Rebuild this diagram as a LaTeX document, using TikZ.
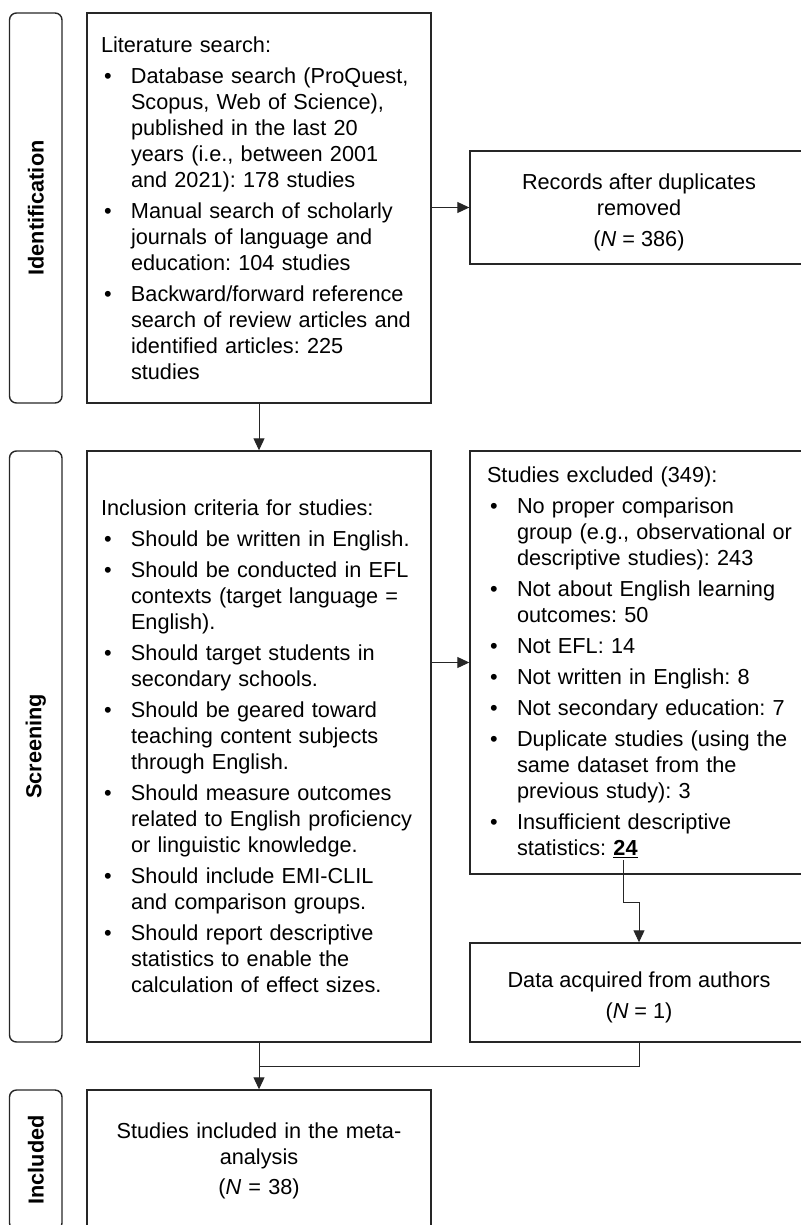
\documentclass[tikz,border=0pt]{standalone}
\usepackage{fontspec}
\setmainfont{Liberation Sans}
\usetikzlibrary{arrows.meta,calc}
\newcommand{\bitem}[1]{\par\vspace{5pt}\hangindent=30pt\hangafter=1\noindent\makebox[30pt][l]{\hspace{3pt}\textbullet}#1\par}
\newcommand{\topgap}{\rule{0pt}{25pt}}
\hyphenpenalty=10000
\exhyphenpenalty=10000
\frenchspacing

\begin{document}
\begin{tikzpicture}[x=1pt,y=-1pt]
	\tikzset{boxed/.style={draw=black!85, line width=1.4pt, rectangle, inner sep=0pt, font=\fontsize{21.7pt}{26pt}\selectfont},
		listed/.style={boxed, inner xsep=14pt, text width=316pt, align=left},
		centred/.style={boxed, minimum width=338pt, align=center},
		sidebar/.style={boxed, rounded corners=7pt, rotate=90, minimum height=52.5pt, font=\bfseries\fontsize{21.7pt}{26pt}\selectfont},
		arr/.style={draw=black!85, line width=1pt, -{Triangle[length=12pt,width=11pt]}},
		link/.style={draw=black!85, line width=1pt}}
	\useasboundingbox (0,0) rectangle (800,1225);
	
	\node[sidebar, minimum width=390pt] (idbar) at (35.75,208) {Identification};
	\node[sidebar, minimum width=591pt] (scbar) at (35.75,746.5) {Screening};
	\node[sidebar, minimum width=140pt] (inbar) at (35.75,1160) {Included};
	
	\node[listed, minimum height=390pt] (lit) at (259,208) {Literature search:
		\bitem{Database search (ProQuest,\newline Scopus, Web of Science),\newline published in the last 20\newline years (i.e., between 2001\newline and 2021): 178 studies}
		\bitem{Manual search of scholarly\newline journals of language and\newline education: 104 studies}
		\bitem{Backward/forward reference\newline search of review articles and\newline identified articles: 225\newline studies}};
	\node[centred, minimum height=113pt] (rec) at (639,207.5) {\topgap Records after duplicates\\removed\\[4.5pt](\textit{N} = 386)};
	
	\node[listed, minimum height=591pt] (incl) at (259,746.5) {Inclusion criteria for studies:
		\bitem{Should be written in English.}
		\bitem{Should be conducted in EFL\newline contexts (target language =\newline English).}
		\bitem{Should target students in\newline secondary schools.}
		\bitem{Should be geared toward\newline teaching content subjects\newline through English.}
		\bitem{Should measure outcomes\newline related to English proficiency\newline or linguistic knowledge.}
		\bitem{Should include EMI-CLIL\newline and comparison groups.}
		\bitem{Should report descriptive\newline statistics to enable the\newline calculation of effect sizes.}};
	\node[listed, inner xsep=17pt, text width=314pt, minimum height=423pt] (excl) at (644,662.5) {Studies excluded (349):
		\bitem{No proper comparison\newline group (e.g., observational or\newline descriptive studies): 243}
		\bitem{Not about English learning\newline outcomes: 50}
		\bitem{Not EFL: 14}
		\bitem{Not written in English: 8}
		\bitem{Not secondary education: 7}
		\bitem{Duplicate studies (using the\newline same dataset from the\newline previous study): 3}
		\bitem{Insufficient descriptive\newline statistics: \underline{\textbf{24}}}};
	\node[centred, minimum height=99pt] (data) at (639,992.5) {\topgap Data acquired from authors\\[4.5pt](\textit{N} = 1)};
	
	\node[listed, align=center, minimum height=142pt] (final) at (259,1161) {Studies included in the meta-\\analysis\\[4.5pt](\textit{N} = 38)};
	
	\coordinate (d24) at (623,860);
	\coordinate (merge) at ($(incl.south)!.5!(final.north)$);
	\draw[arr] (lit.east |- rec.west) -- (rec.west);
	\draw[arr] (lit.south) -- (incl.north);
	\draw[arr] (incl.east |- excl.west) -- (excl.west);
	\draw[arr] (d24) -- ++(0,42) -| (data.north);
	\draw[arr] (incl.south) -- (final.north);
	\draw[link] (data.south) |- (merge);
\end{tikzpicture}
\end{document}
